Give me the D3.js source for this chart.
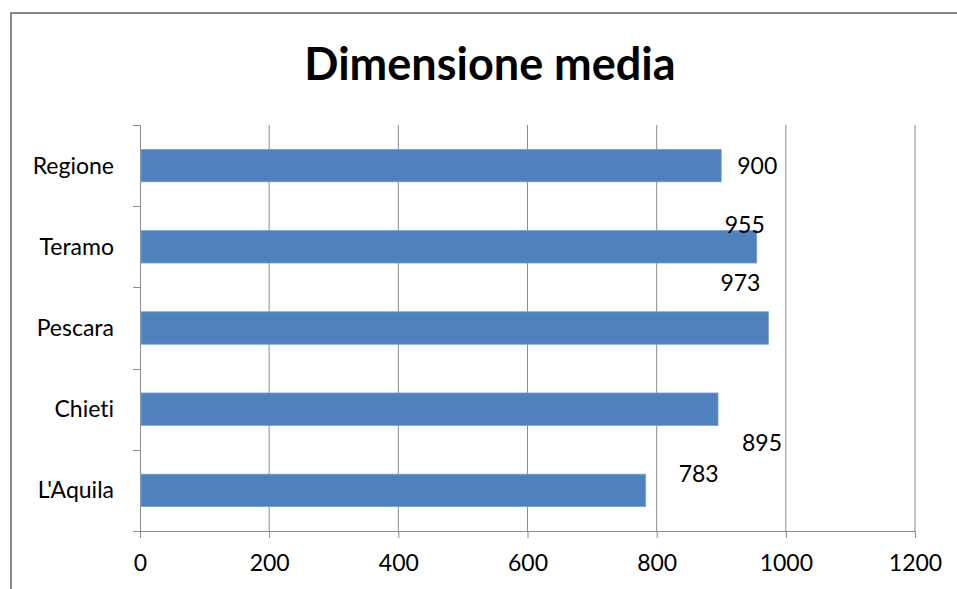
<!DOCTYPE html>
<html>
<head>
<meta charset="utf-8">
<script src="https://cdn.jsdelivr.net/npm/d3@7"></script>
<style>
  body { margin: 0; background: #fff; }
  text { font-family: Lato, "Open Sans", sans-serif; fill: #000; font-variant-ligatures: none; }
</style>
</head>
<body>
<div id="chart"></div>
<script>
const categories = ["Regione", "Teramo", "Pescara", "Chieti", "L'Aquila"];
const values = [900, 955, 973, 895, 783];
const xTicks = [0, 200, 400, 600, 800, 1000, 1200];

// where excel dropped each data label, relative to bar end / bar middle
const labelNudge = [[36, 0], [-12, -22], [-28, -45], [44, 34], [53, -16]];

function drawChart() {
  const width = 957;
  const height = 589;
  const margin = { top: 125, right: 42, bottom: 58, left: 140 };
  const fontSize = "23px";

  const svg = d3
    .select("#chart")
    .append("svg")
    .attr("width", width)
    .attr("height", height);

  // chart frame
  svg
    .append("rect")
    .attr("x", 11)
    .attr("y", 13)
    .attr("width", width + 20)
    .attr("height", height + 20)
    .attr("fill", "none")
    .attr("stroke", "#868686")
    .attr("stroke-width", 2);

  svg
    .append("text")
    .attr("x", 490)
    .attr("y", 80)
    .attr("text-anchor", "middle")
    .style("font-size", "45px")
    .style("font-weight", "bold")
    .text("Dimensione media");

  const xScale = d3
    .scaleLinear()
    .domain([0, 1200])
    .range([margin.left, width - margin.right]);
  const yScale = d3
    .scaleBand()
    .domain(categories)
    .range([margin.top, height - margin.bottom])
    .paddingInner(0.6)
    .paddingOuter(0.3);

  const bottom = height - margin.bottom;

  // vertical gridlines
  svg
    .append("g")
    .selectAll("line")
    .data(xTicks.slice(1))
    .join("line")
    .attr("x1", (d) => xScale(d))
    .attr("x2", (d) => xScale(d))
    .attr("y1", margin.top)
    .attr("y2", bottom)
    .attr("stroke", "#8c8c8c")
    .attr("stroke-width", 1);

  // x axis
  const xAxis = svg
    .append("g")
    .attr("transform", `translate(0,${bottom})`)
    .call(
      d3.axisBottom(xScale)
        .tickValues(xTicks)
        .tickFormat(d3.format("d"))
        .tickSize(7)
        .tickPadding(17)
    );
  xAxis.select(".domain").attr("stroke", "#8c8c8c").attr("d", `M${margin.left - 7},0.5H${xScale(1200)}`);
  xAxis.selectAll(".tick line").attr("stroke", "#8c8c8c");
  xAxis.selectAll("text").style("font-size", fontSize).attr("dy", "0.71em");

  // y axis, ticks sit between categories
  const step = yScale.step();
  const yEdges = d3.range(categories.length + 1).map((i) => margin.top + i * step);
  const yAxis = svg.append("g");
  yAxis
    .append("line")
    .attr("x1", margin.left + 0.5)
    .attr("x2", margin.left + 0.5)
    .attr("y1", margin.top)
    .attr("y2", bottom)
    .attr("stroke", "#8c8c8c");
  yAxis
    .selectAll(".ytick")
    .data(yEdges)
    .join("line")
    .attr("class", "ytick")
    .attr("x1", margin.left - 7)
    .attr("x2", margin.left)
    .attr("y1", (d) => Math.round(d) + 0.5)
    .attr("y2", (d) => Math.round(d) + 0.5)
    .attr("stroke", "#8c8c8c");
  yAxis
    .selectAll("text")
    .data(categories)
    .join("text")
    .attr("x", margin.left - 26)
    .attr("y", (d) => yScale(d) + yScale.bandwidth() / 2)
    .attr("dy", "0.35em")
    .attr("text-anchor", "end")
    .style("font-size", fontSize)
    .text((d) => d);

  // bars
  svg
    .append("g")
    .selectAll("rect")
    .data(values)
    .join("rect")
    .attr("x", xScale(0) + 1)
    .attr("y", (d, i) => yScale(categories[i]))
    .attr("width", (d) => xScale(d) - xScale(0) - 1)
    .attr("height", yScale.bandwidth())
    .attr("fill", "#4f81bd")
    .attr("stroke", "#7ea3d3")
    .attr("stroke-width", 0.8);

  // data labels
  svg
    .append("g")
    .selectAll("text")
    .data(values)
    .join("text")
    .attr("x", (d, i) => xScale(d) + labelNudge[i][0])
    .attr("y", (d, i) => yScale(categories[i]) + yScale.bandwidth() / 2 + labelNudge[i][1])
    .attr("dy", "0.35em")
    .attr("text-anchor", "middle")
    .style("font-size", fontSize)
    .text((d) => d);
}

drawChart();
</script>
</body>
</html>
